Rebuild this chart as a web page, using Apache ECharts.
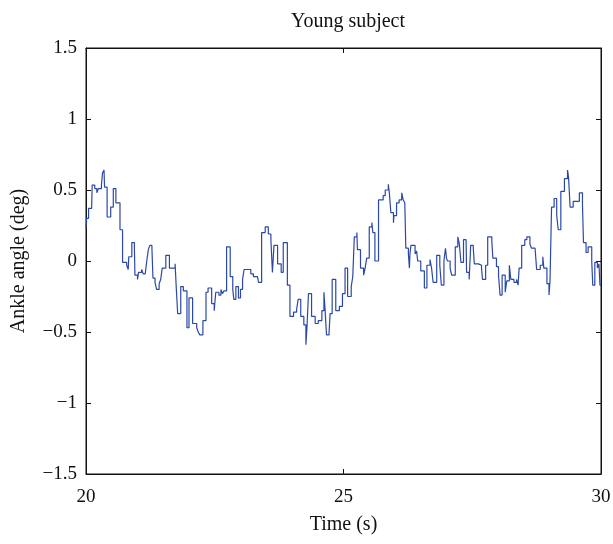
<!DOCTYPE html>
<html>
<head>
<meta charset="utf-8">
<script src="https://cdn.jsdelivr.net/npm/echarts@6/dist/echarts.min.js"></script>
<style>
  html, body { margin: 0; padding: 0; background: #fff; }
  #chart { width: 613px; height: 544px; }
</style>
</head>
<body>
<div id="chart"></div>
<script>
// time (s) where the ankle angle steps to a new value
const time = [
  20.00, 20.01, 20.05, 20.11, 20.12, 20.17, 20.21, 20.24, 20.30, 20.32, 20.35, 20.36, 20.41, 20.48, 20.53, 20.58,
  20.66, 20.71, 20.79, 20.82, 20.83, 20.89, 20.94, 20.95, 21.00, 21.02, 21.08, 21.11, 21.15, 21.18, 21.21, 21.24,
  21.28, 21.30, 21.34, 21.37, 21.42, 21.45, 21.48, 21.55, 21.62, 21.73, 21.75, 21.78, 21.84, 21.89, 21.96, 22.00,
  22.07, 22.15, 22.18, 22.21, 22.27, 22.33, 22.37, 22.44, 22.49, 22.50, 22.52, 22.58, 22.62, 22.65, 22.68, 22.73,
  22.80, 22.85, 22.87, 22.91, 22.96, 23.00, 23.04, 23.07, 23.20, 23.25, 23.33, 23.35, 23.41, 23.48, 23.54, 23.59,
  23.62, 23.65, 23.72, 23.79, 23.83, 23.91, 23.96, 24.03, 24.09, 24.12, 24.17, 24.23, 24.27, 24.29, 24.32, 24.38,
  24.45, 24.51, 24.58, 24.62, 24.64, 24.67, 24.72, 24.74, 24.78, 24.85, 24.92, 24.98, 25.03, 25.08, 25.15, 25.18,
  25.21, 25.26, 25.27, 25.33, 25.39, 25.42, 25.45, 25.50, 25.55, 25.57, 25.61, 25.68, 25.77, 25.81, 25.87, 25.89,
  25.92, 25.97, 25.98, 26.03, 26.08, 26.13, 26.16, 26.19, 26.21, 26.26, 26.28, 26.29, 26.31, 26.39, 26.42, 26.44,
  26.50, 26.57, 26.62, 26.68, 26.71, 26.74, 26.81, 26.87, 26.90, 26.95, 26.98, 27.00, 27.02, 27.07, 27.10, 27.17,
  27.22, 27.25, 27.28, 27.33, 27.38, 27.39, 27.44, 27.47, 27.52, 27.54, 27.62, 27.68, 27.70, 27.76, 27.80, 27.88,
  27.90, 27.97, 28.01, 28.04, 28.08, 28.14, 28.17, 28.22, 28.25, 28.31, 28.36, 28.39, 28.41, 28.46, 28.52, 28.56,
  28.62, 28.65, 28.72, 28.75, 28.82, 28.87, 28.89, 28.95, 28.99, 29.01, 29.04, 29.09, 29.14, 29.17, 29.22, 29.29,
  29.35, 29.37, 29.40, 29.46, 29.58, 29.64, 29.66, 29.71, 29.75, 29.82, 29.84, 29.88, 29.93, 29.96, 29.98, 30.00
];
// ankle angle (deg)
const angle = [
  0.23, 0.30, 0.37, 0.39, 0.535, 0.51, 0.48, 0.51, 0.535, 0.62, 0.64, 0.52, 0.31, 0.38, 0.51, 0.41,
  0.22, -0.01, -0.03, -0.06, 0.03, 0.13, 0.09, -0.10, -0.13, -0.08, -0.06, -0.09, -0.08, 0.00, 0.08, 0.11,
  0.09, -0.12, -0.15, -0.20, -0.16, -0.13, -0.05, 0.04, -0.05, -0.02, -0.17, -0.37, -0.18, -0.21, -0.47, -0.26,
  -0.44, -0.47, -0.50, -0.52, -0.42, -0.22, -0.19, -0.30, -0.35, -0.30, -0.22, -0.24, -0.20, -0.23, -0.21, 0.10,
  -0.11, -0.20, -0.27, -0.18, -0.26, -0.20, -0.13, -0.06, -0.09, -0.11, -0.10, -0.15, 0.20, 0.24, 0.19, 0.15,
  -0.08, 0.11, -0.02, -0.08, 0.13, -0.17, -0.39, -0.36, -0.34, -0.27, -0.39, -0.45, -0.59, -0.47, -0.23, -0.39,
  -0.44, -0.42, -0.35, -0.22, -0.33, -0.52, -0.50, -0.37, -0.13, -0.35, -0.32, -0.23, -0.05, -0.25, -0.18, -0.11,
  0.17, 0.20, 0.08, -0.05, -0.10, -0.05, 0.02, 0.24, 0.27, 0.20, 0.00, 0.43, 0.46, 0.50, 0.54, 0.48,
  0.34, 0.27, 0.32, 0.41, 0.43, 0.48, 0.43, 0.41, 0.09, 0.05, -0.05, 0.05, 0.11, 0.05, 0.07, 0.00,
  -0.07, -0.19, -0.03, 0.01, -0.05, -0.15, 0.04, -0.03, -0.17, 0.00, 0.09, 0.02, 0.00, -0.05, -0.10, 0.10,
  0.17, 0.12, -0.01, 0.15, 0.16, -0.08, -0.13, 0.11, 0.09, -0.02, -0.03, -0.05, -0.13, -0.03, 0.17, 0.14,
  0.02, -0.04, -0.10, -0.24, -0.10, -0.22, -0.14, -0.03, -0.13, -0.15, -0.13, -0.17, -0.05, 0.11, 0.15, 0.17,
  0.12, 0.09, 0.08, -0.06, -0.03, 0.03, -0.05, -0.16, -0.24, -0.14, 0.38, 0.44, 0.32, 0.22, 0.49, 0.58,
  0.64, 0.59, 0.38, 0.42, 0.48, 0.40, 0.13, 0.06, 0.10, 0.00, -0.17, -0.01, -0.05, -0.02, -0.17, -0.17
];
const xTicks = [20, 25, 30];
const yTicks = [-1.5, -1, -0.5, 0, 0.5, 1, 1.5];

const font = 'Liberation Serif';
const fmt = v => String(v).replace('-', '\u2212');

let myChart = echarts.init(document.getElementById('chart'));
let option = {
    backgroundColor: '#fff',
    animation: false,
    title: {
        text: 'Young subject',
        left: 343,
        top: 7,
        textAlign: 'center',
        textStyle: { fontFamily: font, fontSize: 20, fontWeight: 'normal', color: '#111' }
    },
    grid: {
        left: 86,
        right: 12,
        top: 48,
        bottom: 70,
        outerBoundsMode: 'none',
        containLabel: false,
        show: true,
        borderColor: '#111',
        borderWidth: 1
    },
    xAxis: [{
        type: 'value',
        min: xTicks[0],
        max: xTicks[xTicks.length - 1],
        interval: xTicks[1] - xTicks[0],
        name: 'Time (s)',
        nameLocation: 'middle',
        nameGap: 41,
        nameTextStyle: { fontFamily: font, fontSize: 20, color: '#111' },
        axisLine: { show: true, onZero: false, lineStyle: { color: '#111', width: 1 } },
        axisTick: { show: true, inside: true, length: 5, lineStyle: { color: '#111' } },
        axisLabel: { margin: 14, fontFamily: font, fontSize: 19, color: '#111' },
        splitLine: { show: false }
    }, {
        type: 'value',
        position: 'top',
        min: xTicks[0],
        max: xTicks[xTicks.length - 1],
        interval: xTicks[1] - xTicks[0],
        axisLine: { show: true, onZero: false, lineStyle: { color: '#111', width: 1 } },
        axisTick: { show: true, inside: true, length: 5, lineStyle: { color: '#111' } },
        axisLabel: { show: false },
        splitLine: { show: false }
    }],
    yAxis: [{
        type: 'value',
        min: yTicks[0],
        max: yTicks[yTicks.length - 1],
        interval: 0.5,
        name: 'Ankle angle (deg)',
        nameLocation: 'middle',
        nameGap: 57,
        nameTextStyle: { fontFamily: font, fontSize: 20, color: '#111' },
        axisLine: { show: true, onZero: false, lineStyle: { color: '#111', width: 1 } },
        axisTick: { show: true, inside: true, length: 5, lineStyle: { color: '#111' } },
        axisLabel: { margin: 9, fontFamily: font, fontSize: 19, color: '#111', formatter: fmt },
        splitLine: { show: false }
    }, {
        type: 'value',
        position: 'right',
        min: yTicks[0],
        max: yTicks[yTicks.length - 1],
        interval: 0.5,
        axisLine: { show: true, onZero: false, lineStyle: { color: '#111', width: 1 } },
        axisTick: { show: true, inside: true, length: 5, lineStyle: { color: '#111' } },
        axisLabel: { show: false },
        splitLine: { show: false }
    }],
    series: [{
        type: 'line',
        step: 'end',
        data: time.map((t, i) => [t, angle[i]]),
        showSymbol: false,
        lineStyle: { color: '#2b48a6', width: 1.2 }
    }]
};
myChart.setOption(option, true);
</script>
</body>
</html>
